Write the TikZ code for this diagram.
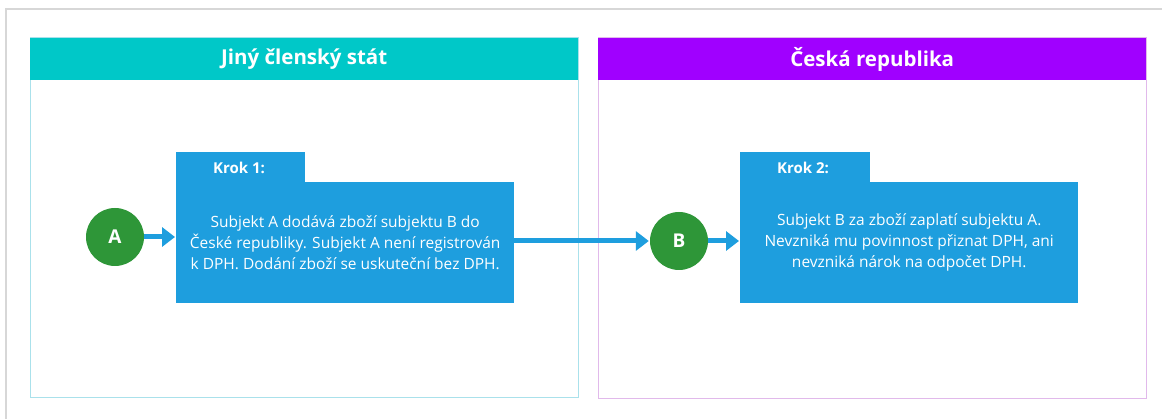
\documentclass[tikz,border=0pt]{standalone}
\usepackage{fontspec}
\setmainfont{Open Sans}
\usetikzlibrary{arrows.meta}
\definecolor{teal1}{RGB}{0,200,200}
\definecolor{purp1}{RGB}{160,0,255}
\definecolor{blue1}{RGB}{30,158,222}
\definecolor{green1}{RGB}{46,150,56}
\definecolor{frame1}{RGB}{215,215,215}
\definecolor{tealb}{RGB}{170,225,235}
\definecolor{purpb}{RGB}{225,185,235}
\tikzset{
  panel/.style={draw=#1, line width=1pt, fill=white},
  header/.style={fill=#1, draw=none, text=white, font=\bfseries\fontsize{20.5}{24}\selectfont, inner sep=0pt},
  stepbox/.style={fill=blue1, draw=none, text=white, align=center, font=\fontsize{15.5}{21}\selectfont, inner sep=0pt},
  tab/.style={fill=blue1, draw=none, inner sep=0pt},
  tablabel/.style={text=white, font=\bfseries\fontsize{15}{18}\selectfont, inner sep=0pt, anchor=west},
  circ/.style={circle, fill=green1, draw=none, text=white, font=\bfseries\fontsize{19}{22}\selectfont, minimum size=58pt, inner sep=0pt},
  flow/.style={draw=blue1, line width=5pt, -{Triangle[length=13pt,width=19pt]}, shorten >=1pt}
}
\begin{document}
\begin{tikzpicture}[x=1pt,y=-1pt]
\useasboundingbox (0,0) rectangle (1162,419);
\fill[white] (0,0) rectangle (1162,419);
% outer frame
\draw[frame1, line width=1.5pt] (6,419) -- (6,9) -- (1162,9);
% left panel
\draw[panel=tealb] (30,38) rectangle (578,398);
\node[header=teal1, minimum width=548pt, minimum height=42pt, anchor=north west] (h1) at (30,38) {Jiný členský stát};
% right panel
\draw[panel=purpb] (598,38) rectangle (1146,399);
\node[header=purp1, minimum width=548pt, minimum height=42pt, anchor=north west] (h2) at (598,38) {Česká republika};
% step 1
\node[tab, minimum width=129pt, minimum height=32pt, anchor=north west] (t1) at (176,152) {};
\node[tablabel] (k1) at (213,168) {Krok 1:};
\node[stepbox, minimum width=338pt, minimum height=121pt, anchor=north west] (s1) at (176,182) {Subjekt A dodává zboží subjektu B do\\České republiky. Subjekt A není registrován\\k DPH. Dodání zboží se uskuteční bez DPH.};
% step 2
\node[tab, minimum width=130pt, minimum height=32pt, anchor=north west] (t2) at (740,152) {};
\node[tablabel] (k2) at (777,168) {Krok 2:};
\node[stepbox, minimum width=338pt, minimum height=121pt, anchor=north west] (s2) at (740,182) {Subjekt B za zboží zaplatí subjektu A.\\Nevzniká mu povinnost přiznat DPH, ani\\nevzniká nárok na odpočet DPH.};
% circles
\node[circ] (a) at (115,237) {A};
\node[circ] (b) at (679,241) {B};
% arrows
\draw[flow] (a.east) -- (a.east -| s1.west);
\draw[flow] (s1.east |- b.west) -- (b.west);
\draw[flow] (b.east) -- (b.east -| s2.west);
\end{tikzpicture}
\end{document}
